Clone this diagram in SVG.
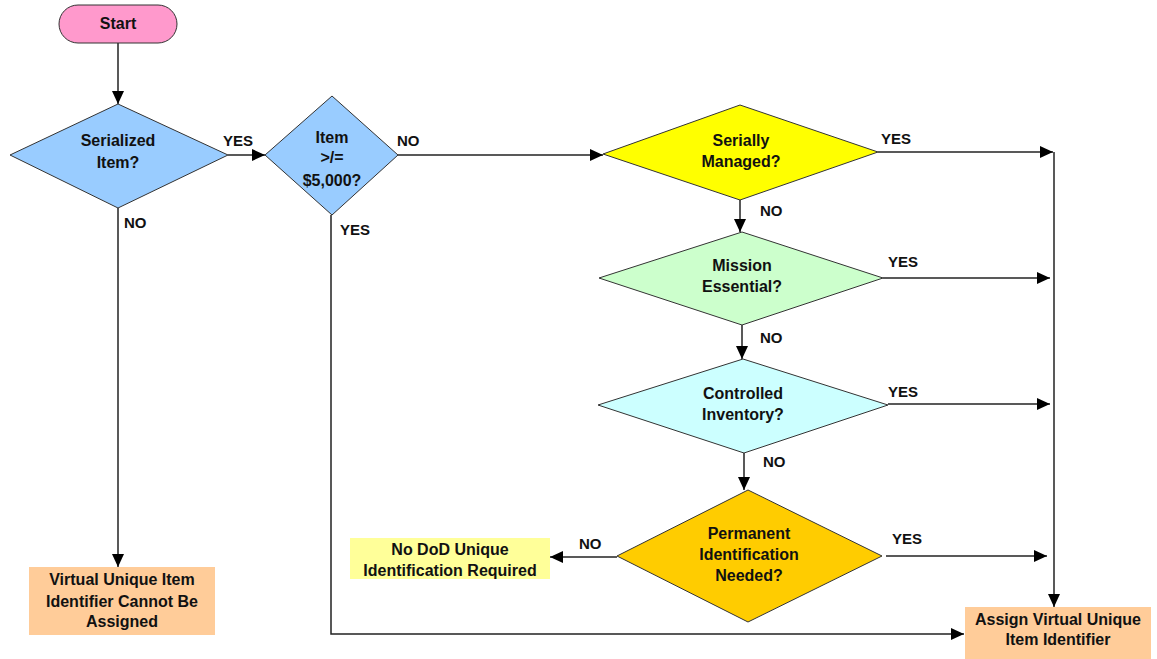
<svg xmlns="http://www.w3.org/2000/svg" width="1157" height="659" viewBox="0 0 1157 659">
<style>
text{font-family:"Liberation Sans",Arial,sans-serif;font-weight:bold;fill:#111}
.t{font-size:16px;text-anchor:middle}
.l{font-size:15px}
.c{fill:none;stroke:#222;stroke-width:1.5;marker-end:url(#ah)}
.n{fill:none;stroke:#222;stroke-width:1.5}
.d{stroke:#333;stroke-width:1}
</style>
<defs>
<marker id="ah" markerUnits="userSpaceOnUse" markerWidth="13" markerHeight="12" refX="13" refY="6" orient="auto">
<path d="M0,0 L13,6 L0,12 z" fill="#000"/>
</marker>
</defs>
<rect width="1157" height="659" fill="#fff"/>
<g id="connectors">
<path class="c" d="M118,43 V104"/>
<path class="c" d="M228,155 H265"/>
<path class="c" d="M398,155 H603"/>
<path class="c" d="M118,208 V567"/>
<path class="c" d="M331,215 V634 H964"/>
<path class="c" d="M740,200 V232"/>
<path class="c" d="M742,325 V359"/>
<path class="c" d="M744,453 V490"/>
<path class="c" d="M617,557 H550"/>
<path class="c" d="M878,152 H1053"/>
<path class="c" d="M1054,152 V607"/>
<path class="c" d="M883,278 H1050"/>
<path class="c" d="M888,404 H1050"/>
<path class="c" d="M886,556 H1047"/>
<text class="l" x="223" y="146">YES</text>
<text class="l" x="397" y="146">NO</text>
<text class="l" x="124" y="228">NO</text>
<text class="l" x="340" y="235">YES</text>
<text class="l" x="881" y="144">YES</text>
<text class="l" x="760" y="216">NO</text>
<text class="l" x="888" y="267">YES</text>
<text class="l" x="760" y="343">NO</text>
<text class="l" x="888" y="397">YES</text>
<text class="l" x="763" y="467">NO</text>
<text class="l" x="892" y="544">YES</text>
<text class="l" x="579" y="549">NO</text>
</g>
<g id="start">
<rect x="59" y="5" width="118" height="38" rx="19" fill="#FF99CC" stroke="#333" stroke-width="1"/>
<text class="t" x="118" y="29">Start</text>
</g>
<g id="serialized">
<polygon class="d" points="118,104 228,155 118,208 10,155" fill="#99CCFF"/>
<text class="t" x="118" y="146">Serialized</text>
<text class="t" x="118" y="168">Item?</text>
</g>
<g id="item-value">
<polygon class="d" points="332,96 398,155 332,215 265,155" fill="#99CCFF"/>
<text class="t" x="332" y="143">Item</text>
<text class="t" x="332" y="163">&gt;/=</text>
<text class="t" x="332" y="186">$5,000?</text>
</g>
<g id="serially-managed">
<polygon class="d" points="740,105 878,152 740,200 603,154" fill="#FFFF00"/>
<text class="t" x="741" y="146">Serially</text>
<text class="t" x="741" y="167">Managed?</text>
</g>
<g id="mission-essential">
<polygon class="d" points="742,232 883,278 742,325 599,278" fill="#CCFFCC"/>
<text class="t" x="742" y="271">Mission</text>
<text class="t" x="742" y="292">Essential?</text>
</g>
<g id="controlled-inventory">
<polygon class="d" points="743,359 888,405 744,453 598,405" fill="#CCFFFF"/>
<text class="t" x="743" y="399">Controlled</text>
<text class="t" x="743" y="420">Inventory?</text>
</g>
<g id="permanent-id">
<polygon class="d" points="748,490 882,556 748,622 617,556" fill="#FFCC00"/>
<text class="t" x="749" y="539">Permanent</text>
<text class="t" x="749" y="560">Identification</text>
<text class="t" x="749" y="581">Needed?</text>
</g>
<g id="no-dod">
<rect x="350" y="538" width="200" height="41" fill="#FFFF99"/>
<text class="t" x="450" y="555">No DoD Unique</text>
<text class="t" x="450" y="576">Identification Required</text>
</g>
<g id="cannot-assign">
<rect x="29" y="567" width="186" height="68" fill="#FFCC99"/>
<text class="t" x="122" y="585">Virtual Unique Item</text>
<text class="t" x="122" y="607">Identifier Cannot Be</text>
<text class="t" x="122" y="627">Assigned</text>
</g>
<g id="assign">
<rect x="965" y="607" width="186" height="52" fill="#FFCC99"/>
<text class="t" x="1058" y="625">Assign Virtual Unique</text>
<text class="t" x="1058" y="645">Item Identifier</text>
</g>
</svg>
